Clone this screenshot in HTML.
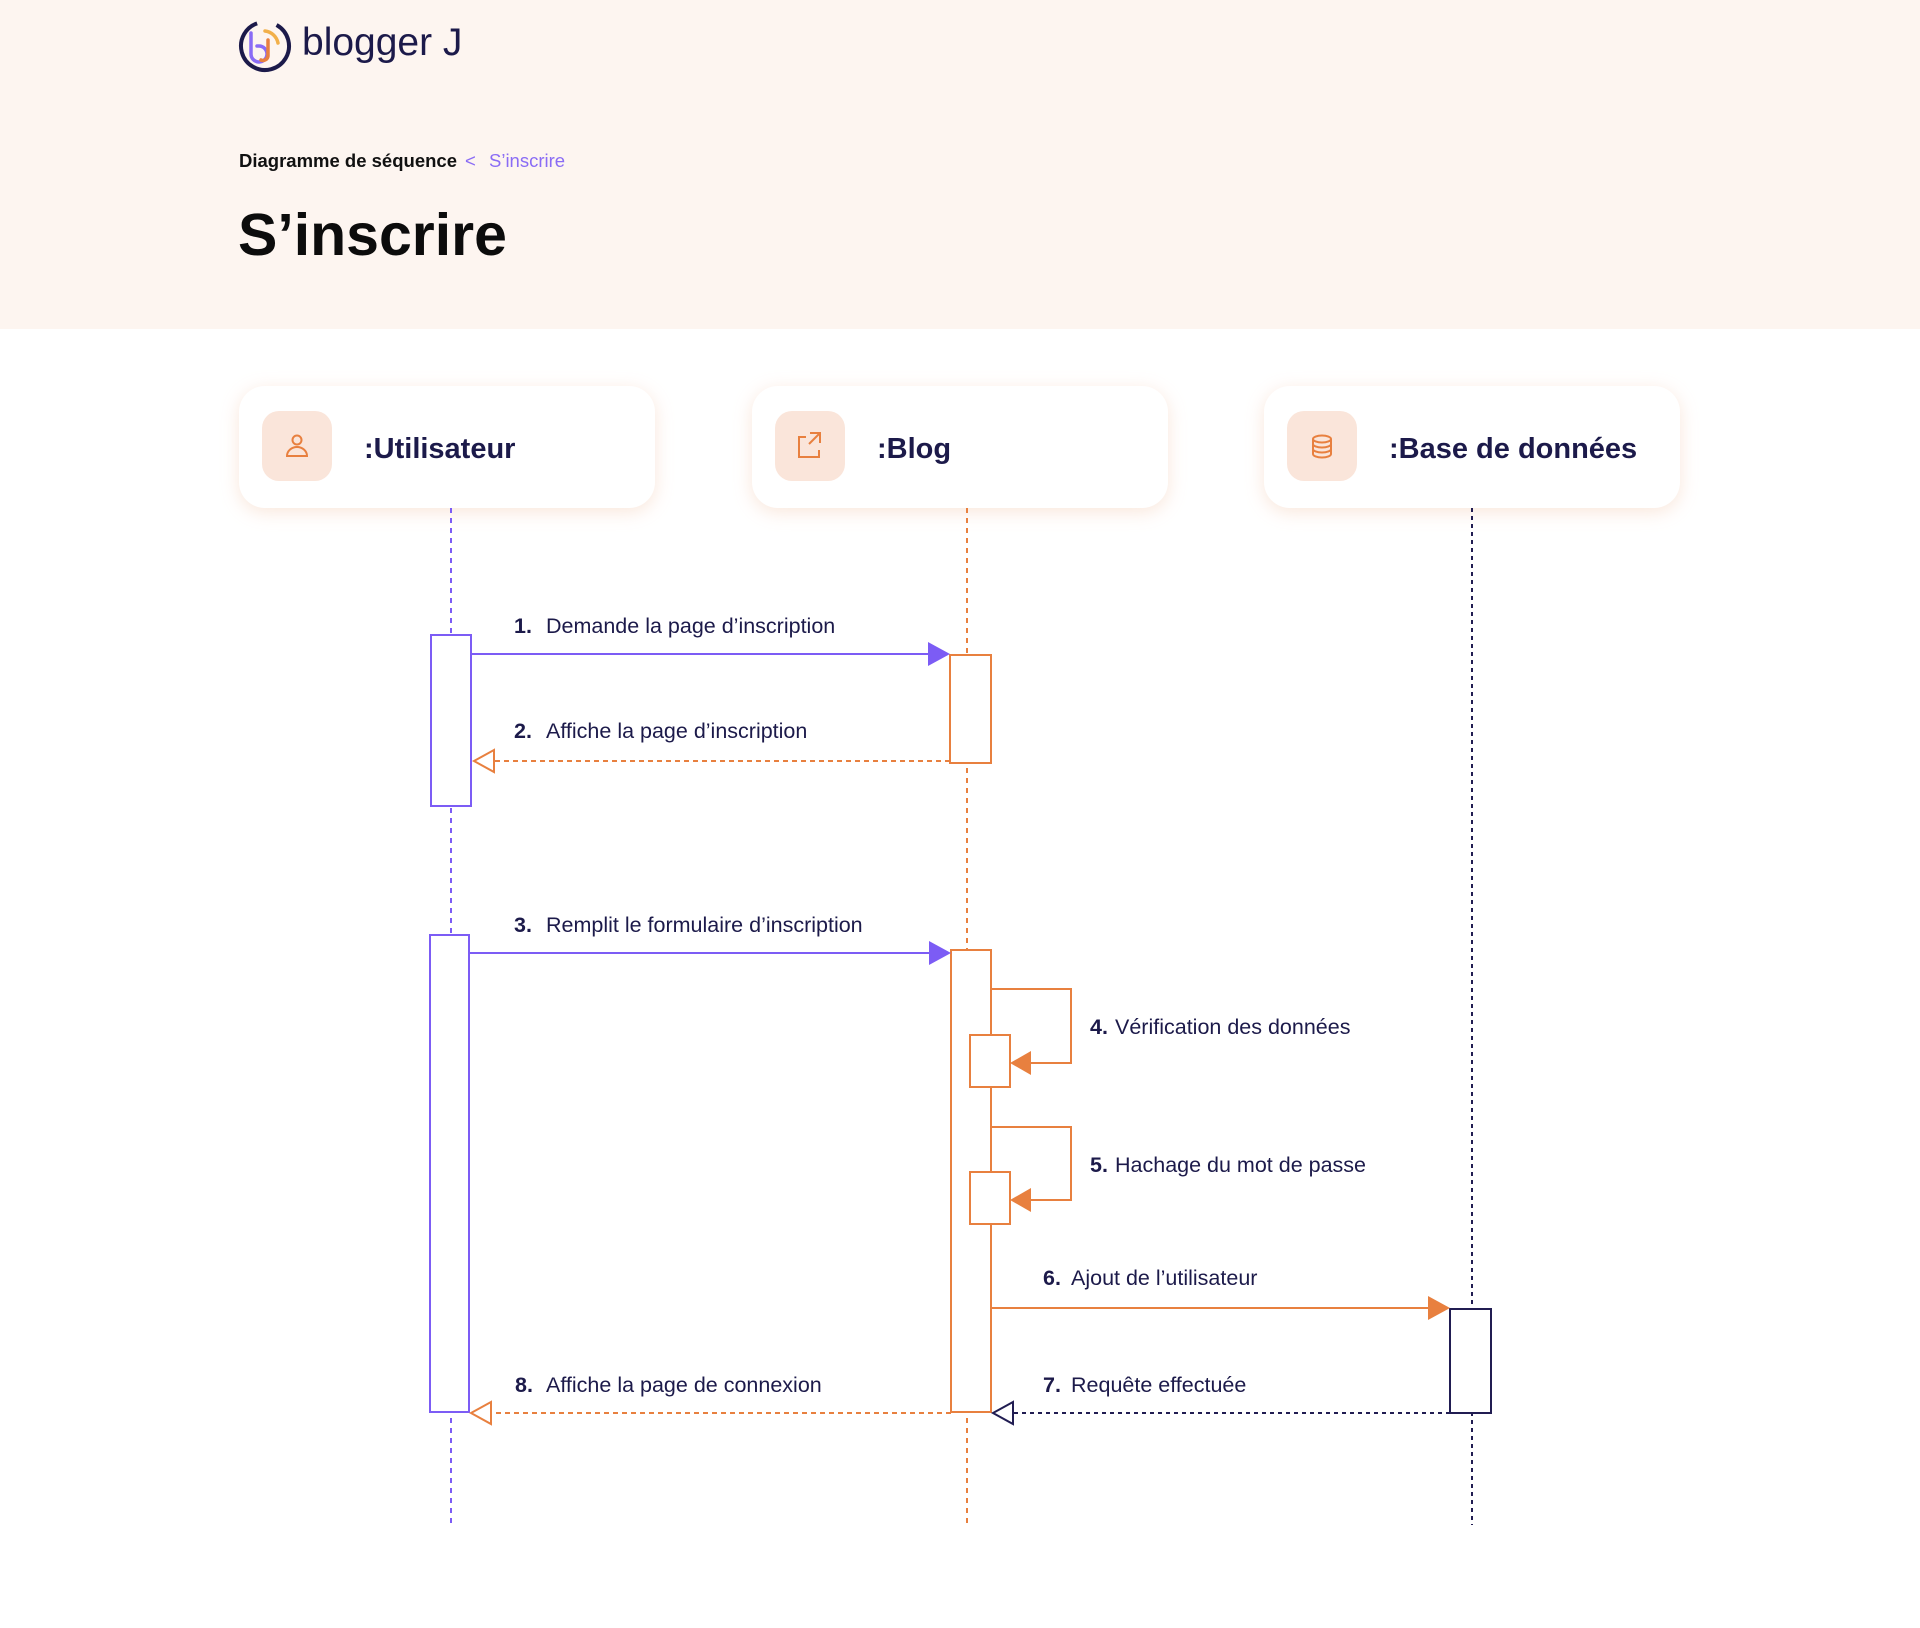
<!DOCTYPE html>
<html><head><meta charset="utf-8"><style>
html,body{margin:0;padding:0;width:1920px;height:1628px;background:#fff;overflow:hidden}
svg text{font-family:"Liberation Sans",sans-serif}
</style></head><body>
<svg width="1920" height="1628" viewBox="0 0 1920 1628" xmlns="http://www.w3.org/2000/svg">
<defs>
<filter id="sh" x="-20%" y="-40%" width="140%" height="180%"><feDropShadow dx="0" dy="4" stdDeviation="9" flood-color="#f3c9ae" flood-opacity="0.45"/></filter>
</defs>
<rect x="0" y="0" width="1920" height="329" fill="#fdf5f0"/>
<!-- logo -->
<circle cx="265" cy="46" r="24" fill="none" stroke="#1c1a4a" stroke-width="4" stroke-dasharray="130 20" transform="rotate(-60 265 46)"/>
<path d="M251 33 V54 a8 8 0 1 0 8 -8 h-2" fill="none" stroke="#8a6cf5" stroke-width="3.5" stroke-linecap="round"/>
<path d="M268 40 V56 a5 5 0 0 1 -7 4" fill="none" stroke="#e8803f" stroke-width="3.5" stroke-linecap="round"/>
<path d="M265 31 a15 15 0 0 1 13 12" fill="none" stroke="#f2b04a" stroke-width="3.5" stroke-linecap="round"/>
<text x="302" y="55" font-size="39" fill="#1c1a4a">blogger J</text>
<text x="239" y="167" font-size="18.5" font-weight="bold" fill="#111">Diagramme de séquence</text>
<text x="465" y="167" font-size="18.5" fill="#8a6cf5">&lt;</text>
<text x="489" y="167" font-size="18.5" fill="#8a6cf5">S’inscrire</text>
<text x="238" y="255" font-size="59" font-weight="bold" fill="#0c0c0c">S’inscrire</text>
<!-- cards -->
<g filter="url(#sh)">
<rect x="239" y="386" width="416" height="122" rx="26" fill="#fff"/>
<rect x="752" y="386" width="416" height="122" rx="26" fill="#fff"/>
<rect x="1264" y="386" width="416" height="122" rx="26" fill="#fff"/>
</g>
<rect x="262" y="411" width="70" height="70" rx="17" fill="#fae5da"/>
<rect x="775" y="411" width="70" height="70" rx="17" fill="#fae5da"/>
<rect x="1287" y="411" width="70" height="70" rx="17" fill="#fae5da"/>
<g fill="none" stroke="#e8803f" stroke-width="2">
<circle cx="297" cy="440" r="4.5"/><path d="M287 456 a10 9 0 0 1 20 0 z"/>
<path d="M806 437 h-7 v20 h20 v-7 M810 433 h10 v10 M820 433 l-11 11"/>
<ellipse cx="1322" cy="439" rx="9" ry="3.5"/><path d="M1313 439 v15 a9 3.5 0 0 0 18 0 v-15 M1313 444 a9 3.5 0 0 0 18 0 M1313 449 a9 3.5 0 0 0 18 0"/>
</g>
<g font-size="29" font-weight="bold" fill="#1c1a4a">
<text x="364" y="458">:Utilisateur</text>
<text x="877" y="458">:Blog</text>
<text x="1389" y="458">:Base de données</text>
</g>
<!-- lifelines -->
<line x1="451" y1="508" x2="451" y2="1525" stroke="#7c5cf5" stroke-width="2" stroke-dasharray="5 5"/>
<line x1="967" y1="508" x2="967" y2="1525" stroke="#e8803f" stroke-width="2" stroke-dasharray="5 5"/>
<line x1="1472" y1="508" x2="1472" y2="1525" stroke="#211d52" stroke-width="2" stroke-dasharray="4 4"/>
<!-- activations -->
<rect x="431" y="635" width="40" height="171" fill="#fff" stroke="#7c5cf5" stroke-width="2"/>
<rect x="950" y="655" width="41" height="108" fill="#fff" stroke="#e8803f" stroke-width="2"/>
<rect x="430" y="935" width="39" height="477" fill="#fff" stroke="#7c5cf5" stroke-width="2"/>
<rect x="951" y="950" width="40" height="462" fill="#fff" stroke="#e8803f" stroke-width="2"/>
<rect x="1450" y="1309" width="41" height="104" fill="#fff" stroke="#211d52" stroke-width="2"/>
<!-- msg1 -->
<line x1="471" y1="654" x2="930" y2="654" stroke="#7c5cf5" stroke-width="2"/>
<path d="M928 642 L950 654 L928 666 Z" fill="#7c5cf5"/>
<!-- msg2 -->
<line x1="950" y1="761" x2="492" y2="761" stroke="#e8803f" stroke-width="2" stroke-dasharray="5 4"/>
<path d="M494 750 L474 761 L494 772 Z" fill="#fff" stroke="#e8803f" stroke-width="2"/>
<!-- msg3 -->
<line x1="469" y1="953" x2="930" y2="953" stroke="#7c5cf5" stroke-width="2"/>
<path d="M929 941 L951 953 L929 965 Z" fill="#7c5cf5"/>
<!-- self 4 -->
<path d="M991 989 H1071 V1063 H1028" fill="none" stroke="#e8803f" stroke-width="2"/>
<rect x="970" y="1035" width="40" height="52" fill="#fff" stroke="#e8803f" stroke-width="2"/>
<path d="M1031 1051 L1010 1063 L1031 1075 Z" fill="#e8803f"/>
<!-- self 5 -->
<path d="M991 1127 H1071 V1200 H1028" fill="none" stroke="#e8803f" stroke-width="2"/>
<rect x="970" y="1172" width="40" height="52" fill="#fff" stroke="#e8803f" stroke-width="2"/>
<path d="M1031 1188 L1010 1200 L1031 1212 Z" fill="#e8803f"/>
<!-- msg6 -->
<line x1="991" y1="1308" x2="1430" y2="1308" stroke="#e8803f" stroke-width="2"/>
<path d="M1428 1296 L1450 1308 L1428 1320 Z" fill="#e8803f"/>
<!-- msg7 -->
<line x1="1450" y1="1413" x2="1012" y2="1413" stroke="#211d52" stroke-width="2" stroke-dasharray="4 4"/>
<path d="M1013 1402 L993 1413 L1013 1424 Z" fill="#fff" stroke="#211d52" stroke-width="2"/>
<!-- msg8 -->
<line x1="951" y1="1413" x2="490" y2="1413" stroke="#e8803f" stroke-width="2" stroke-dasharray="5 4"/>
<path d="M491 1402 L471 1413 L491 1424 Z" fill="#fff" stroke="#e8803f" stroke-width="2"/>
<!-- labels -->
<g font-size="21.5" fill="#1c1a4a">
<text x="514" y="633" font-weight="bold">1.</text><text x="546" y="633">Demande la page d’inscription</text>
<text x="514" y="738" font-weight="bold">2.</text><text x="546" y="738">Affiche la page d’inscription</text>
<text x="514" y="932" font-weight="bold">3.</text><text x="546" y="932">Remplit le formulaire d’inscription</text>
<text x="1090" y="1034" font-weight="bold">4.</text><text x="1115" y="1034">Vérification des données</text>
<text x="1090" y="1172" font-weight="bold">5.</text><text x="1115" y="1172">Hachage du mot de passe</text>
<text x="1043" y="1285" font-weight="bold">6.</text><text x="1071" y="1285">Ajout de l’utilisateur</text>
<text x="1043" y="1392" font-weight="bold">7.</text><text x="1071" y="1392">Requête effectuée</text>
<text x="515" y="1392" font-weight="bold">8.</text><text x="546" y="1392">Affiche la page de connexion</text>
</g>
</svg>
</body></html>
